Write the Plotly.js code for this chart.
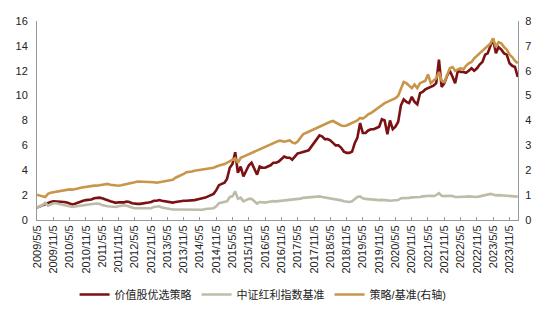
<!DOCTYPE html>
<html>
<head>
<meta charset="utf-8">
<script src="https://cdn.plot.ly/plotly-3.0.1.min.js"></script>
<style>html,body{margin:0;padding:0;background:#fff;}#chart{width:550px;height:321px;}</style>
</head>
<body>
<div id="chart"></div>
<script>
// Monthly observations, 2009-05 .. 2024-02
const startYear = 2009, startMonth = 5, nPoints = 178;

const strategy = [
  1.0,1.1,1.2,1.3,1.35,1.45,1.5,1.5,
  1.5,1.45,1.45,1.4,1.3,1.25,1.3,1.4,1.5,1.55,1.6,1.6,
  1.65,1.75,1.8,1.8,1.75,1.65,1.6,1.5,1.45,1.38,1.42,1.4,
  1.42,1.48,1.45,1.35,1.3,1.3,1.3,1.32,1.35,1.4,1.45,1.55,
  1.55,1.6,1.55,1.5,1.5,1.4,1.4,1.45,1.5,1.5,1.55,1.55,
  1.55,1.6,1.6,1.65,1.7,1.72,1.8,1.9,2.0,2.1,2.4,2.8,
  2.9,3.0,3.3,4.2,4.5,5.45,3.8,4.3,3.5,4.0,4.4,4.6,
  4.1,3.65,4.3,4.2,4.2,4.3,4.4,4.6,4.6,4.7,4.9,5.1,
  5.0,5.0,4.85,5.1,5.35,5.4,5.45,5.5,5.6,5.9,6.2,6.4,
  6.8,6.7,6.5,6.5,6.4,6.2,6.0,6.0,5.8,5.5,5.4,5.4,
  5.5,6.2,6.6,7.8,7.0,7.0,7.2,7.3,7.3,7.4,7.5,8.1,
  8.0,6.9,8.0,7.3,7.5,7.9,9.2,9.7,9.5,9.4,9.9,9.5,
  9.3,10.2,10.3,10.5,10.6,10.7,10.8,11.0,12.9,10.7,11.0,11.6,
  12.0,11.5,11.0,12.0,11.9,11.9,11.84,12.0,12.2,12.0,12.2,12.5,
  12.7,13.3,13.4,14.0,14.55,13.4,13.9,13.7,13.4,13.3,12.6,12.4,
  12.3,11.5
];

const benchmark = [
  1.0,1.1,1.2,1.38,1.15,1.25,1.35,1.35,
  1.3,1.25,1.22,1.18,1.1,1.05,1.08,1.12,1.15,1.2,1.22,1.25,
  1.28,1.3,1.32,1.3,1.2,1.12,1.1,1.08,1.05,1.05,1.1,1.15,
  1.18,1.15,1.05,1.0,0.95,0.95,0.93,0.92,0.92,0.93,0.95,1.05,
  1.1,1.1,1.0,0.95,0.95,0.88,0.85,0.85,0.85,0.85,0.85,0.82,
  0.8,0.8,0.8,0.8,0.82,0.82,0.88,0.92,0.93,0.95,1.1,1.35,
  1.4,1.45,1.5,1.85,1.9,2.3,1.7,1.8,1.5,1.6,1.7,1.7,
  1.5,1.32,1.45,1.4,1.4,1.45,1.5,1.52,1.5,1.52,1.55,1.58,
  1.6,1.62,1.63,1.63,1.68,1.72,1.78,1.8,1.82,1.85,1.88,1.88,
  1.9,1.85,1.82,1.78,1.75,1.7,1.65,1.6,1.58,1.5,1.48,1.45,
  1.5,1.7,1.85,1.9,1.75,1.7,1.68,1.63,1.65,1.63,1.6,1.62,
  1.62,1.58,1.55,1.58,1.58,1.6,1.75,1.75,1.78,1.78,1.82,1.84,
  1.8,1.85,1.9,1.92,1.95,1.95,1.92,2.0,2.15,1.95,1.92,1.95,
  1.95,1.92,1.85,1.85,1.88,1.9,1.88,1.9,1.88,1.82,1.85,1.9,
  1.95,1.98,2.0,2.1,2.05,1.98,2.0,1.98,1.95,1.92,1.9,1.88,
  1.9,1.88
];

const ratio = [
  1.02,1.0,0.95,0.92,1.05,1.1,1.12,1.13,
  1.15,1.17,1.2,1.22,1.23,1.22,1.23,1.27,1.3,1.32,1.33,1.35,
  1.37,1.38,1.38,1.4,1.43,1.45,1.45,1.42,1.4,1.38,1.38,1.4,
  1.42,1.45,1.47,1.5,1.52,1.55,1.55,1.53,1.54,1.55,1.55,1.52,
  1.5,1.52,1.53,1.55,1.55,1.58,1.62,1.7,1.75,1.78,1.85,1.92,
  1.93,1.95,1.98,2.0,2.0,2.02,2.05,2.05,2.08,2.1,2.15,2.2,
  2.22,2.25,2.3,2.38,2.42,2.48,2.3,2.5,2.55,2.6,2.65,2.7,
  2.75,2.8,2.85,2.9,2.95,3.0,3.05,3.1,3.15,3.18,3.18,3.15,
  3.18,3.2,3.12,3.08,3.15,3.3,3.45,3.5,3.55,3.6,3.68,3.72,
  3.78,3.82,3.85,3.9,3.95,3.98,3.92,3.85,3.8,3.78,3.8,3.85,
  3.9,3.95,4.0,4.1,4.08,4.15,4.25,4.3,4.38,4.45,4.55,4.62,
  4.7,4.75,4.8,4.85,4.9,5.0,5.3,5.55,5.5,5.4,5.3,5.45,
  5.3,5.5,5.55,5.6,5.85,5.5,5.6,5.7,5.95,5.6,5.55,5.8,
  6.1,6.15,6.0,6.05,6.1,6.05,6.2,6.3,6.35,6.5,6.6,6.7,
  6.8,6.9,7.0,7.1,7.3,6.95,7.15,7.1,6.95,6.85,6.65,6.55,
  6.4,6.3
];

const tickLabels = [
  '2009/5/5','2009/11/5','2010/5/5','2010/11/5','2011/5/5','2011/11/5',
  '2012/5/5','2012/11/5','2013/5/5','2013/11/5','2014/5/5','2014/11/5',
  '2015/5/5','2015/11/5','2016/5/5','2016/11/5','2017/5/5','2017/11/5',
  '2018/5/5','2018/11/5','2019/5/5','2019/11/5','2020/5/5','2020/11/5',
  '2021/5/5','2021/11/5','2022/5/5','2022/11/5','2023/5/5','2023/11/5'
];

const seriesNames = ['价值股优选策略','中证红利指数基准','策略/基准(右轴)'];
const colors = ['#7B1113','#BEBCA9','#C8964A'];

const pad = n => (n < 10 ? '0' : '') + n;
const dates = [];
for (let i = 0; i < nPoints; i++) {
  const m0 = startMonth - 1 + i;
  dates.push((startYear + Math.floor(m0 / 12)) + '-' + pad(m0 % 12 + 1) + '-05');
}
const tickVals = tickLabels.map(s => { const p = s.split('/'); return p[0] + '-' + pad(+p[1]) + '-' + pad(+p[2]); });

const FONT = 'Liberation Sans, Arial, Noto Sans CJK SC, sans-serif';

const traces = [
  {x: dates, y: strategy, name: seriesNames[0], type: 'scatter', mode: 'lines',
   line: {color: colors[0], width: 2.6}},
  {x: dates, y: benchmark, name: seriesNames[1], type: 'scatter', mode: 'lines',
   line: {color: colors[1], width: 2.6}},
  {x: dates, y: ratio, name: seriesNames[2], type: 'scatter', mode: 'lines', yaxis: 'y2',
   line: {color: colors[2], width: 2.6}}
];

const layout = {
  width: 550, height: 321,
  margin: {l: 37, r: 32, t: 21, b: 94},
  paper_bgcolor: '#fff', plot_bgcolor: '#fff',
  font: {family: FONT, size: 11, color: '#222'},
  showlegend: true,
  legend: {orientation: 'h', x: 0.47, xanchor: 'center', y: -0.374, yanchor: 'middle',
           font: {family: FONT, size: 11, color: '#222'}, itemwidth: 30, tracegroupgap: 0},
  xaxis: {
    type: 'date', range: ['2009-05-05', '2024-02-08'],
    tickmode: 'array', tickvals: tickVals, ticktext: tickLabels, tickangle: -90,
    ticks: 'inside', ticklen: 3, tickcolor: '#999', showline: true, linecolor: '#999', linewidth: 1,
    showgrid: false, zeroline: false, tickfont: {family: FONT, size: 11, color: '#222'}
  },
  yaxis: {
    range: [0, 16], dtick: 2, tick0: 0, showline: true, linecolor: '#999', linewidth: 1,
    ticks: '', showgrid: false, zeroline: false, ticklabelstandoff: 6,
    tickfont: {family: FONT, size: 11, color: '#222'}
  },
  yaxis2: {
    range: [0, 8], dtick: 1, tick0: 0, overlaying: 'y', side: 'right', showline: true,
    linecolor: '#999', linewidth: 1, ticks: '', showgrid: false, zeroline: false, ticklabelstandoff: 4,
    tickfont: {family: FONT, size: 11, color: '#222'}
  }
};

Plotly.newPlot('chart', traces, layout, {staticPlot: true, displayModeBar: false});
</script>
</body>
</html>
